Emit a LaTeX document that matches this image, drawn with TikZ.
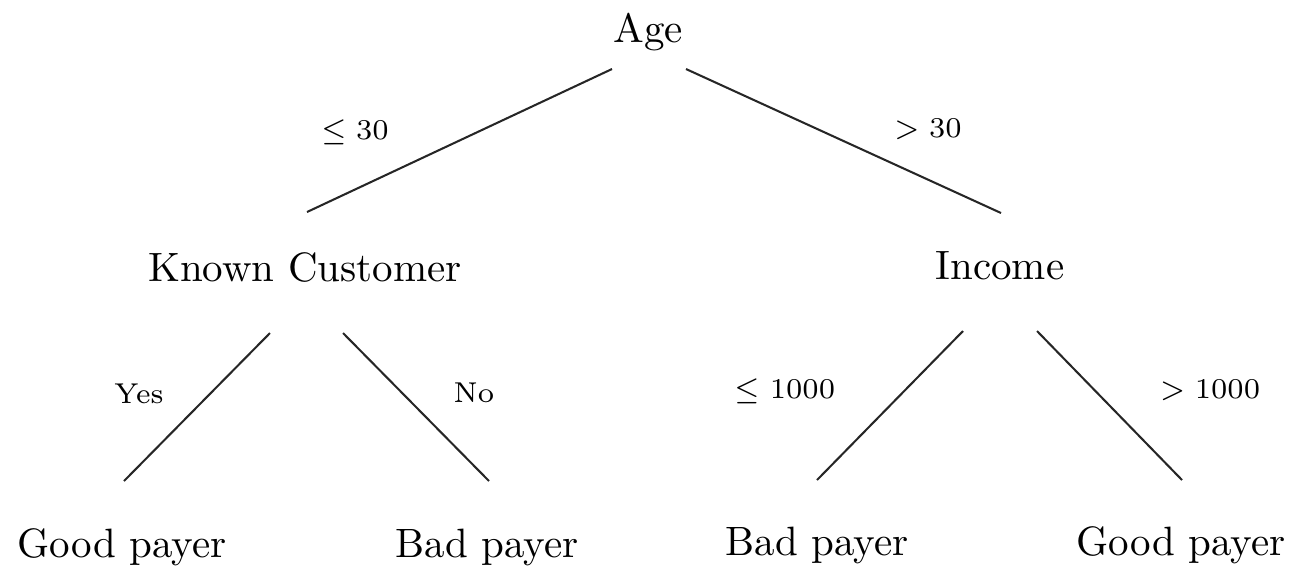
\documentclass[tikz,border=0pt]{standalone}
\usetikzlibrary{calc}
\begin{document}
\begin{tikzpicture}[x=0.2439pt, y=-0.2439pt,
  treenode/.style={anchor=base, inner sep=0pt},
  edgelabel/.style={anchor=base, inner sep=0pt, font=\scriptsize},
  branch/.style={line width=0.5pt, draw=black!85}]
  \useasboundingbox (0,0) rectangle (1294,568);

  % tree nodes
  \node[treenode] (age) at (648,42) {Age};
  \node[treenode] (kc)  at (305,281) {Known Customer};
  \node[treenode] (inc) at (1000,279) {Income};
  \node[treenode] (gp1) at (122,557) {Good payer};
  \node[treenode] (bp1) at (487,557) {Bad payer};
  \node[treenode] (bp2) at (817,555) {Bad payer};
  \node[treenode] (gp2) at (1181,555) {Good payer};

  % branches
  \draw[branch] ($(age.base)+(-36,27)$) -- ($(kc.base)+(2,-69)$);
  \draw[branch] ($(age.base)+(38,27)$)  -- ($(inc.base)+(1,-66)$);
  \draw[branch] ($(kc.base)+(-35,52)$)  -- ($(gp1.base)+(2,-76)$);
  \draw[branch] ($(kc.base)+(38,52)$)   -- ($(bp1.base)+(2,-76)$);
  \draw[branch] ($(inc.base)+(-37,52)$) -- ($(bp2.base)+(0,-75)$);
  \draw[branch] ($(inc.base)+(37,52)$)  -- ($(gp2.base)+(1,-75)$);

  % branch labels
  \node[edgelabel] (l1) at (355,139) {$\leq 30$};
  \node[edgelabel] (l2) at (928,137) {$> 30$};
  \node[edgelabel] (l3) at (139,403) {Yes};
  \node[edgelabel] (l4) at (474,402) {No};
  \node[edgelabel] (l5) at (785,398) {$\leq 1000$};
  \node[edgelabel] (l6) at (1210,398) {$> 1000$};
\end{tikzpicture}
\end{document}
